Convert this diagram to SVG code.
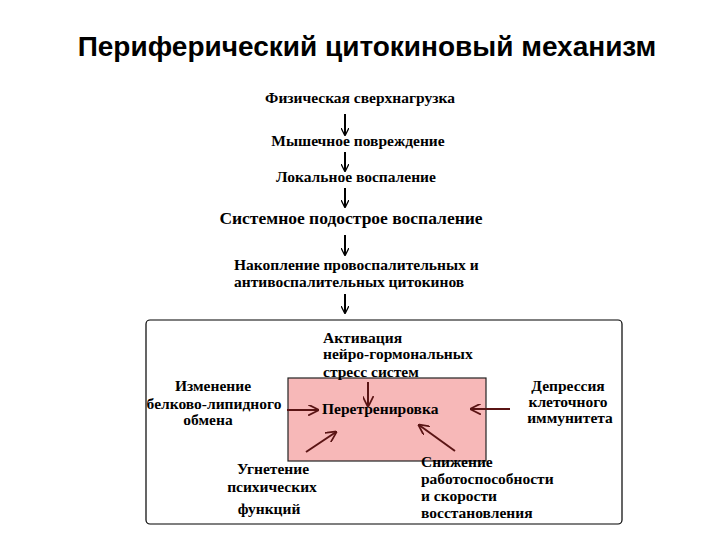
<svg xmlns="http://www.w3.org/2000/svg" width="720" height="540" viewBox="0 0 720 540">
<defs>
<marker id="ab" viewBox="0 0 10 10" refX="9" refY="5" markerWidth="8" markerHeight="8" orient="auto" markerUnits="userSpaceOnUse"><path d="M0,0 L10,5 L0,10" fill="none" stroke="#000" stroke-width="1.6"/></marker>
<marker id="ar" viewBox="0 0 10 10" refX="9" refY="5" markerWidth="11" markerHeight="11" orient="auto" markerUnits="userSpaceOnUse"><path d="M0,0 L10,5 L0,10" fill="none" stroke="#5a1414" stroke-width="1.6"/></marker>
<style>
.t{font-family:"Liberation Serif","Times New Roman",serif;font-weight:bold;font-size:15.5px;fill:#000}
.c{text-anchor:middle}
.ttl{font-family:"Liberation Sans",Arial,sans-serif;font-weight:bold;font-size:28px;fill:#000}
.k{stroke:#000;stroke-width:2;fill:none;marker-end:url(#ab)}
.r{stroke:#5a1414;stroke-width:2;fill:none;marker-end:url(#ar)}
</style>
</defs>
<rect width="720" height="540" fill="#fff"/>
<text class="ttl" x="367" y="56" text-anchor="middle">Периферический цитокиновый механизм</text>
<g id="outer"><rect x="146" y="320" width="476" height="204" rx="4" fill="#fff" stroke="#000" stroke-width="1.2"/></g>
<g id="center"><rect x="288" y="378" width="198" height="83" fill="#f7b8b8" stroke="#222" stroke-width="1.2"/><text class="t" x="322" y="414">Перетренировка</text></g>
<g id="n1"><text class="t c" x="360" y="103">Физическая сверхнагрузка</text></g>
<g id="n2"><text class="t c" x="358" y="146">Мышечное повреждение</text></g>
<g id="n3"><text class="t c" x="356" y="182">Локальное воспаление</text></g>
<g id="n4"><text class="t c" x="351" y="224" style="font-size:17.5px">Системное подострое воспаление</text></g>
<g id="n5"><text class="t" x="234" y="270">Накопление провоспалительных и</text><text class="t" x="234" y="287">антивоспалительных цитокинов</text></g>
<g id="top"><text class="t" x="323" y="343">Активация</text><text class="t" x="323" y="359">нейро-гормональных</text><text class="t" x="323" y="377">стресс систем</text></g>
<g id="left"><text class="t c" x="213" y="391">Изменение</text><text class="t c" x="214" y="409">белково-липидного</text><text class="t c" x="208" y="425">обмена</text></g>
<g id="right"><text class="t c" x="568" y="391">Депрессия</text><text class="t c" x="568" y="407">клеточного</text><text class="t c" x="570" y="423">иммунитета</text></g>
<g id="bl"><text class="t c" x="273" y="474">Угнетение</text><text class="t c" x="272" y="492">психических</text><text class="t c" x="269" y="514">функций</text></g>
<g id="br"><text class="t" x="421" y="467">Снижение</text><text class="t" x="421" y="484">работоспособности</text><text class="t" x="421" y="501">и скорости</text><text class="t" x="421" y="518">восстановления</text></g>
<g id="connectors">
<line class="k" x1="345" y1="114" x2="345" y2="135"/>
<line class="k" x1="345" y1="152" x2="345" y2="171"/>
<line class="k" x1="345" y1="188" x2="345" y2="207"/>
<line class="k" x1="345" y1="235" x2="345" y2="255"/>
<line class="k" x1="345" y1="294" x2="345" y2="313"/>
<line class="r" x1="368" y1="382" x2="368" y2="406"/>
<line class="r" x1="287" y1="410" x2="318" y2="410"/>
<line class="r" x1="510" y1="409" x2="471" y2="409"/>
<line class="r" x1="306" y1="452" x2="336" y2="432"/>
<line class="r" x1="455" y1="451" x2="419" y2="425"/>
</g>
</svg>
